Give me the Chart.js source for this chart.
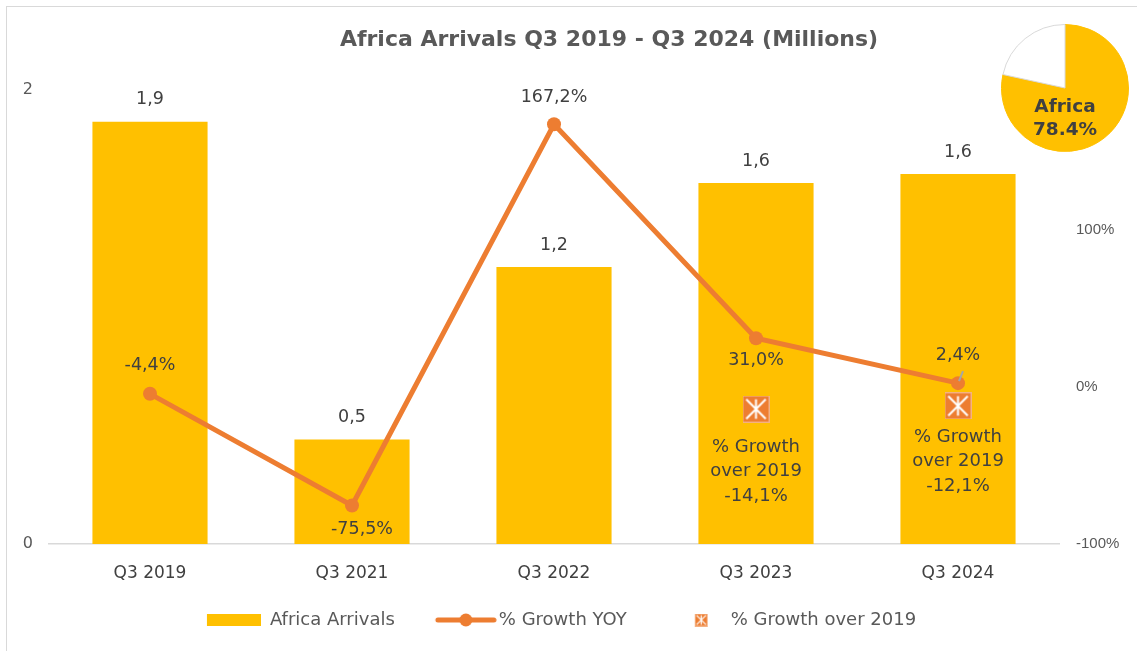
<!DOCTYPE html>
<html>
<head>
<meta charset="utf-8">
<script src="https://cdn.jsdelivr.net/npm/chart.js@4"></script>
<style>
  html, body { margin: 0; padding: 0; background: #fff; overflow: hidden; }
  body { width: 1137px; height: 651px; position: relative; }
  #frame { position: absolute; left: 6px; top: 6px; width: 3000px; height: 3000px; border: 1px solid #d9d9d9; }
  #main { position: absolute; left: 0; top: 0; }
  #pie { position: absolute; left: 1001px; top: 24px; }
</style>
</head>
<body>
<div id="frame"></div>
<canvas id="main" width="1218" height="651"></canvas>
<canvas id="pie" width="128" height="128"></canvas>
<script>
// --- DATA ---
const categories = ['Q3 2019', 'Q3 2021', 'Q3 2022', 'Q3 2023', 'Q3 2024'];
const arrivals = [1.86, 0.46, 1.22, 1.59, 1.63];          // millions
const growthYoY = [-0.044, -0.755, 1.672, 0.310, 0.024];  // share
const growthVs2019 = [null, null, null, -0.141, -0.121];  // share
const leftTicks = [0, 2];
const rightTicks = [-1, 0, 1];
const pieLabels = ['Africa', 'Rest'];
const pieShares = [78.4, 21.6];

const GOLD = '#FFC000';
const ORANGE = '#ED7D31';
const DARK = '#404040';
const GREY = '#595959';
const W = 1218;

Chart.defaults.font.family = "'DejaVu Sans', sans-serif";

// label placement next to each YoY point (dx, dy)
const yoyShift = [[0, -28], [10, 24], [0, -27], [0, 22], [0, -28]];
const vs2019Top = [0, 0, 0, 38, 31];

// --- small pictures used as point / legend styles ---
function drawMarker(g, x, y, s) {
    g.fillStyle = ORANGE;
    g.fillRect(x, y, s, s);
    g.strokeStyle = '#F4B183';
    g.lineWidth = 1;
    g.strokeRect(x + 0.5, y + 0.5, s - 1, s - 1);
    g.strokeStyle = '#fff';
    g.lineWidth = s > 16 ? 2 : 1.2;
    const m = s * 0.14;
    g.beginPath();
    g.moveTo(x + s / 2, y + m); g.lineTo(x + s / 2, y + s - m);
    g.moveTo(x + m, y + m); g.lineTo(x + s - m, y + s - m);
    g.moveTo(x + s - m, y + m); g.lineTo(x + m, y + s - m);
    g.stroke();
}

function pic(w, h, fn) {
    const c = document.createElement('canvas');
    c.width = w; c.height = h;
    fn(c.getContext('2d'));
    return c;
}

const bigMarker = pic(27, 27, g => drawMarker(g, 0, 0, 27));

// legend pictures: 69 px box, content pushed right
const legendImgs = [
    pic(69, 12, g => { g.fillStyle = GOLD; g.fillRect(15, 0, 54, 12); }),
    pic(83, 14, g => {
        g.strokeStyle = ORANGE; g.lineWidth = 5; g.lineCap = 'round';
        g.beginPath(); g.moveTo(24, 7); g.lineTo(80, 7); g.stroke();
        g.fillStyle = ORANGE;
        g.beginPath(); g.arc(52, 7, 6.5, 0, Math.PI * 2); g.fill();
    }),
    pic(69, 13, g => drawMarker(g, 42, 0, 13))
];

const fmt1 = v => v.toFixed(1).replace('.', ',');

// --- LABELS PLUGIN ---
const valueLabels = {
    id: 'valueLabels',
    afterDatasetsDraw(chart) {
        const ctx = chart.ctx;
        ctx.save();
        ctx.textAlign = 'center';
        ctx.textBaseline = 'middle';
        ctx.fillStyle = DARK;
        ctx.font = "17.5px 'DejaVu Sans'";

        chart.getDatasetMeta(0).data.forEach((bar, i) => {
            ctx.fillText(fmt1(arrivals[i]), bar.x, bar.y - 22);
        });

        chart.getDatasetMeta(1).data.forEach((pt, i) => {
            const [dx, dy] = yoyShift[i];
            ctx.fillText(fmt1(growthYoY[i] * 100) + '%', pt.x + dx, pt.y + dy);
            if (i === 4) {
                ctx.strokeStyle = '#A6A6A6';
                ctx.lineWidth = 2;
                ctx.beginPath();
                ctx.moveTo(pt.x + 1, pt.y - 2);
                ctx.lineTo(pt.x + 5, pt.y - 12);
                ctx.stroke();
            }
        });

        ctx.font = "18px 'DejaVu Sans'";
        chart.getDatasetMeta(2).data.forEach((pt, i) => {
            if (growthVs2019[i] == null) return;
            const y0 = pt.y + vs2019Top[i];
            ctx.fillText('% Growth', pt.x, y0);
            ctx.fillText('over 2019', pt.x, y0 + 24.5);
            ctx.fillText(fmt1(growthVs2019[i] * 100) + '%', pt.x, y0 + 49);
        });
        ctx.restore();
    }
};

new Chart(document.getElementById('main'), {
    data: {
        labels: categories,
        datasets: [
            {
                type: 'bar',
                label: 'Africa Arrivals',
                data: arrivals,
                backgroundColor: GOLD,
                categoryPercentage: 1,
                barPercentage: 0.57,
                yAxisID: 'y',
                order: 3
            },
            {
                type: 'line',
                label: '% Growth YOY',
                data: growthYoY,
                borderColor: ORANGE,
                backgroundColor: ORANGE,
                borderWidth: 5,
                pointRadius: 7,
                pointBorderWidth: 0,
                tension: 0,
                yAxisID: 'y1',
                order: 2
            },
            {
                type: 'line',
                label: '% Growth over 2019',
                data: growthVs2019,
                showLine: false,
                pointStyle: bigMarker,
                yAxisID: 'y1',
                order: 1
            }
        ]
    },
    options: {
        responsive: false,
        animation: false,
        layout: { padding: { left: 0, right: 0, top: 0, bottom: 12 } },
        plugins: {
            tooltip: { enabled: false },
            title: {
                display: true,
                text: 'Africa Arrivals Q3 2019 - Q3 2024 (Millions)',
                color: GREY,
                font: { size: 22, weight: 'bold' },
                padding: { top: 26.8, bottom: 36.8 }
            },
            legend: {
                position: 'bottom',
                fullSize: false,
                labels: {
                    usePointStyle: true,
                    pointStyleWidth: 69,
                    padding: 26,
                    color: GREY,
                    font: { size: 18 },
                    generateLabels: chart => chart.data.datasets.map((ds, i) => ({
                        text: ds.label,
                        pointStyle: legendImgs[i],
                        fontColor: GREY,
                        fillStyle: 'transparent',
                        strokeStyle: 'transparent',
                        lineWidth: 0,
                        datasetIndex: i
                    }))
                }
            }
        },
        scales: {
            x: {
                grid: { display: false, drawTicks: false },
                border: { color: '#d9d9d9', width: 1.5 },
                ticks: { color: DARK, font: { size: 17 }, padding: 19 },
                afterFit: s => { s.height = 41; }
            },
            y: {
                position: 'left',
                min: 0,
                max: 2,
                grid: { display: false, drawTicks: false },
                border: { display: false },
                ticks: { color: GREY, font: { size: 16 }, padding: 16 },
                afterBuildTicks: s => { s.ticks = leftTicks.map(v => ({ value: v })); },
                afterFit: s => { s.width = 49; }
            },
            y1: {
                position: 'right',
                min: -1,
                max: 1.89,
                grid: { display: false, drawTicks: false },
                border: { display: false },
                ticks: {
                    color: GREY,
                    font: { family: "'Liberation Sans', Arial, sans-serif", size: 15 },
                    padding: 17,
                    callback: v => Math.round(v * 100) + '%'
                },
                afterBuildTicks: s => { s.ticks = rightTicks.map(v => ({ value: v })); },
                afterFit: s => { s.width = W - 1059; }
            }
        }
    },
    plugins: [valueLabels]
});

// --- SMALL PIE (top right) ---
const pieText = {
    id: 'pieText',
    afterDatasetsDraw(chart) {
        const arc = chart.getDatasetMeta(0).data[0];
        const ctx = chart.ctx;
        ctx.save();
        ctx.textAlign = 'center';
        ctx.textBaseline = 'middle';
        ctx.fillStyle = DARK;
        ctx.font = "bold 18.5px 'DejaVu Sans'";
        ctx.fillText(pieLabels[0], arc.x, arc.y + 19);
        ctx.fillText(pieShares[0].toFixed(1) + '%', arc.x, arc.y + 42);
        ctx.restore();
    }
};

new Chart(document.getElementById('pie'), {
    type: 'pie',
    data: {
        labels: pieLabels,
        datasets: [{
            data: pieShares,
            backgroundColor: [GOLD, '#FFFFFF'],
            borderColor: [GOLD, '#D9D9D9'],
            borderWidth: 1
        }]
    },
    options: {
        responsive: false,
        animation: false,
        plugins: { legend: { display: false }, tooltip: { enabled: false } }
    },
    plugins: [pieText]
});
</script>
</body>
</html>
